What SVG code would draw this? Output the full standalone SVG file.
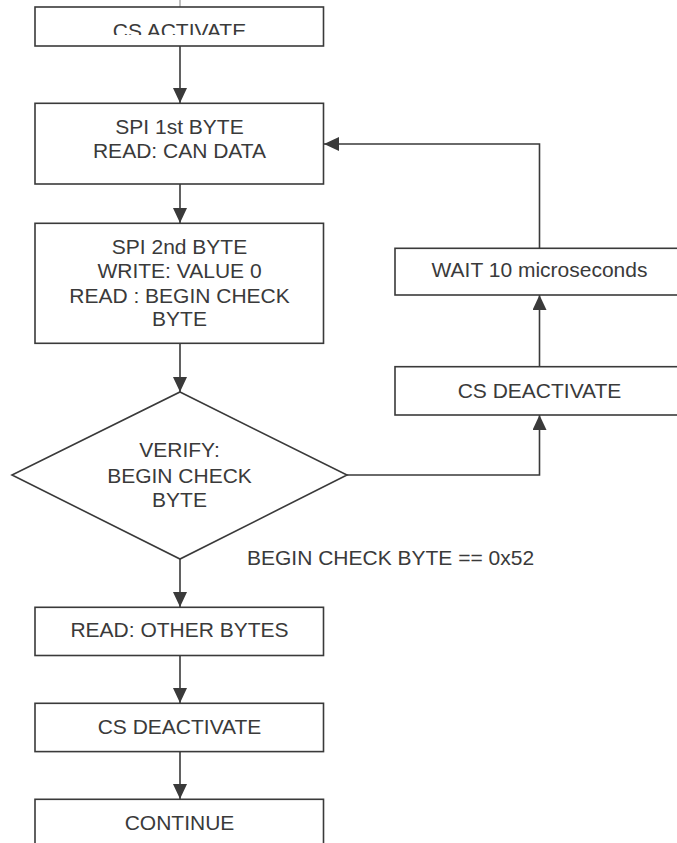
<svg xmlns="http://www.w3.org/2000/svg" width="677" height="843" viewBox="0 0 677 843">
<style>
.box{fill:#fff;stroke:#3a3a3a;stroke-width:1.6}
.t{font-family:"Liberation Sans",Arial,Helvetica,sans-serif;font-size:21px;fill:#3a3a3a;text-anchor:middle}
.tl{font-family:"Liberation Sans",Arial,Helvetica,sans-serif;font-size:21px;fill:#3a3a3a}
.c{fill:none;stroke:#3a3a3a;stroke-width:1.6}
</style>
<defs>
<marker id="ah" viewBox="0 0 15 14" refX="15" refY="7" markerWidth="15" markerHeight="14" markerUnits="userSpaceOnUse" orient="auto">
<path d="M0,0 L15,7 L0,14 z" fill="#3a3a3a"/>
</marker>
<clipPath id="clipTop"><rect x="0" y="0" width="677" height="35"/></clipPath>
</defs>
<rect width="677" height="843" fill="#fff"/>
<g id="connectors">
<line class="c" x1="180" y1="0" x2="180" y2="7" stroke-opacity="0.4"/>
<line class="c" x1="180" y1="46" x2="180" y2="103" marker-end="url(#ah)"/>
<line class="c" x1="180" y1="184" x2="180" y2="223" marker-end="url(#ah)"/>
<line class="c" x1="180" y1="343" x2="180" y2="392" marker-end="url(#ah)"/>
<line class="c" x1="180" y1="559" x2="180" y2="607" marker-end="url(#ah)"/>
<line class="c" x1="180" y1="655.5" x2="180" y2="703" marker-end="url(#ah)"/>
<line class="c" x1="180" y1="751.5" x2="180" y2="799" marker-end="url(#ah)"/>
<polyline class="c" points="347,475 539.5,475 539.5,415" marker-end="url(#ah)"/>
<line class="c" x1="539.5" y1="366.7" x2="539.5" y2="295" marker-end="url(#ah)"/>
<polyline class="c" points="539.5,248.3 539.5,144 324,144" marker-end="url(#ah)"/>
</g>
<g id="cs-activate">
<rect class="box" x="35" y="7" width="288.5" height="39"/>
<text class="t" x="179.5" y="37.7" clip-path="url(#clipTop)">CS ACTIVATE</text>
</g>
<g id="spi-1st">
<rect class="box" x="35" y="103.3" width="288.5" height="80.7"/>
<text class="t" x="179.5" y="134.3">SPI 1st BYTE</text>
<text class="t" x="179.5" y="158.3">READ: CAN DATA</text>
</g>
<g id="spi-2nd">
<rect class="box" x="35" y="223.3" width="288.5" height="120"/>
<text class="t" x="179.5" y="254.3">SPI 2nd BYTE</text>
<text class="t" x="179.5" y="278.3">WRITE: VALUE 0</text>
<text class="t" x="179.5" y="302.5">READ : BEGIN CHECK</text>
<text class="t" x="179.5" y="326.3">BYTE</text>
</g>
<g id="verify">
<polygon class="box" points="180,392 347,475 180,559 12,475"/>
<text class="t" x="179.5" y="457.3">VERIFY:</text>
<text class="t" x="179.5" y="482.5">BEGIN CHECK</text>
<text class="t" x="179.5" y="506.7">BYTE</text>
</g>
<g id="cond-label">
<text class="tl" x="247" y="565">BEGIN CHECK BYTE == 0x52</text>
</g>
<g id="read-other">
<rect class="box" x="35" y="607.3" width="288.5" height="48.2"/>
<text class="t" x="179.5" y="636.7">READ: OTHER BYTES</text>
</g>
<g id="cs-deactivate-1">
<rect class="box" x="35" y="703.3" width="288.5" height="48.3"/>
<text class="t" x="179.5" y="733.7">CS DEACTIVATE</text>
</g>
<g id="continue">
<rect class="box" x="35" y="799.3" width="288.5" height="60"/>
<text class="t" x="179.5" y="830">CONTINUE</text>
</g>
<g id="cs-deactivate-2">
<rect class="box" x="395" y="366.7" width="289" height="48.3"/>
<text class="t" x="539.5" y="397.5">CS DEACTIVATE</text>
</g>
<g id="wait">
<rect class="box" x="395" y="248.3" width="289" height="46.7"/>
<text class="t" x="539.5" y="276.5">WAIT 10 microseconds</text>
</g>
</svg>
